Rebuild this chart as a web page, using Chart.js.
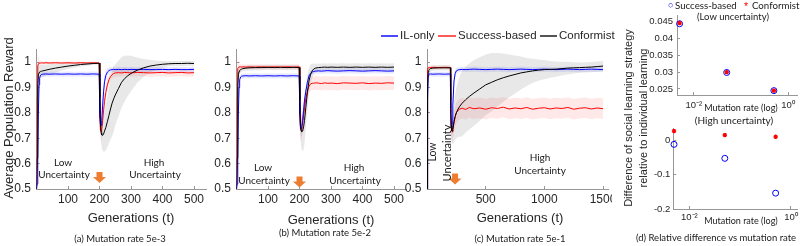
<!DOCTYPE html>
<html>
<head>
<meta charset="utf-8">
<script src="https://cdn.jsdelivr.net/npm/chart.js@4.4.1/dist/chart.umd.min.js"></script>
<style>
body { margin: 0; width: 803px; height: 246px; position: relative; background: #fff; overflow: hidden;
       font-family: "Liberation Sans", Arial, sans-serif; color: #262626; }
canvas { position: absolute; }
.t { position: absolute; white-space: nowrap; line-height: 1; transform: translate(-50%, -50%); }
.r { transform: translate(-50%, -50%) rotate(-90deg); }
.l { position: absolute; white-space: nowrap; line-height: 1; transform: translateY(-50%); }
.cal { font-family: Lato, sans-serif; color: #1a1a1a; }
.key { position: absolute; height: 1.5px; }
</style>
</head>
<body>
<canvas id="ca"></canvas>
<canvas id="cb"></canvas>
<canvas id="cc"></canvas>
<canvas id="cd1"></canvas>
<canvas id="cd2"></canvas>

<div class="t r" style="left:8px;top:118px;font-size:13px">Average Population Reward</div>
<div class="t" style="left:131px;top:217px;font-size:13px">Generations (t)</div>
<div class="t" style="left:331px;top:219px;font-size:13px">Generations (t)</div>
<div class="t" style="left:520px;top:217px;font-size:13px">Generations (t)</div>

<div class="t cal" style="left:120px;top:239px;font-size:9.5px">(a) Mutation rate 5e-3</div>
<div class="t cal" style="left:325px;top:233px;font-size:9.5px">(b) Mutation rate 5e-2</div>
<div class="t cal" style="left:520px;top:239px;font-size:9.5px">(c) Mutation rate 5e-1</div>
<div class="t cal" style="left:716px;top:238px;font-size:9.5px">(d) Relative difference vs mutation rate</div>

<div class="t cal" style="left:63px;top:162px;font-size:10px">Low</div>
<div class="t cal" style="left:64px;top:174px;font-size:10px">Uncertainty</div>
<div class="t cal" style="left:154px;top:162px;font-size:10px">High</div>
<div class="t cal" style="left:155px;top:174px;font-size:10px">Uncertainty</div>
<div class="t cal" style="left:263px;top:167px;font-size:10px">Low</div>
<div class="t cal" style="left:264px;top:180px;font-size:10px">Uncertainty</div>
<div class="t cal" style="left:354px;top:167px;font-size:10px">High</div>
<div class="t cal" style="left:355px;top:180px;font-size:10px">Uncertainty</div>
<div class="t r cal" style="left:432px;top:152px;font-size:10.5px">Low</div>
<div class="t r cal" style="left:445.5px;top:153px;font-size:11px">Uncertainty</div>
<div class="t cal" style="left:540px;top:157px;font-size:10px">High</div>
<div class="t cal" style="left:540px;top:170px;font-size:10px">Uncertainty</div>

<div class="key" style="left:381px;top:35px;width:17px;background:#4a4aff"></div>
<div class="l" style="left:400px;top:36px;font-size:11.5px">IL-only</div>
<div class="key" style="left:438px;top:35px;width:18px;background:#ff5a5a"></div>
<div class="l" style="left:458px;top:36px;font-size:11.5px">Success-based</div>
<div class="key" style="left:540px;top:35px;width:17px;background:#555"></div>
<div class="l" style="left:559px;top:36px;font-size:11.5px">Conformist</div>

<div class="l" style="left:668px;top:5px;font-size:9px;color:#0000ff">○</div>
<div class="l cal" style="left:675px;top:6px;font-size:9.7px">Success-based</div>
<div class="l" style="left:744px;top:6px;font-size:10.5px;color:#ff0000">*</div>
<div class="l cal" style="left:752px;top:6px;font-size:9.7px">Conformist</div>
<div class="t cal" style="left:733px;top:17px;font-size:9.5px">(Low uncertainty)</div>
<div class="t cal" style="left:734px;top:120px;font-size:10px">(High uncertainty)</div>
<div class="t cal" style="left:741px;top:107px;font-size:9px">Mutation rate (log)</div>
<div class="t cal" style="left:741px;top:220px;font-size:9px">Mutation rate (log)</div>
<div class="t r" style="left:627.5px;top:118px;font-size:11px">Difference of social learning strategy</div>
<div class="t r" style="left:643px;top:118px;font-size:11px">relative to individual learning</div>

<script>
// generations sampled for panels (a) and (b)
const gensAB = [0,2,4,6,8,10,13,16,20,30,40,60,80,100,120,140,160,180,199,201,203,205,207,210,213,216,220,225,230,235,240,245,250,260,270,280,290,300,320,340,360,380,400,420,440,460,480,500];

// (a) mutation rate 5e-3
const ilOnlyA = [0.50,0.52,0.62,0.80,0.91,0.938,0.948,0.951,0.952,0.953,0.952,0.953,0.952,0.953,0.952,0.953,0.952,0.953,0.952,
  0.80,0.757,0.750,0.768,0.83,0.885,0.922,0.947,0.960,0.966,0.969,0.970,0.971,
  0.970,0.971,0.970,0.971,0.970,0.971,0.970,0.971,0.970,0.970,0.971,0.970,0.971,0.970,0.970,0.971];
const successA = [0.50,0.86,0.985,0.993,0.995,0.996,0.996,0.997,0.996,0.997,0.996,0.997,0.996,0.997,0.996,0.997,0.996,0.997,0.996,
  0.78,0.732,0.726,0.735,0.77,0.81,0.845,0.88,0.91,0.93,0.943,0.950,0.955,0.957,
  0.958,0.957,0.959,0.958,0.957,0.959,0.958,0.957,0.958,0.959,0.957,0.958,0.959,0.957,0.958];
const conformA = [0.50,0.62,0.90,0.95,0.958,0.961,0.963,0.964,0.965,0.968,0.971,0.976,0.980,0.984,0.987,0.990,0.992,0.994,0.995,
  0.86,0.76,0.722,0.713,0.711,0.717,0.728,0.742,0.765,0.79,
  0.815,0.838,0.855,0.87,0.895,0.92,0.935,0.946,0.955,
  0.968,0.977,0.984,0.988,0.991,0.993,0.994,0.994,0.995,0.994];
const sdIlOnlyA = [0,0.02,0.05,0.05,0.03,0.015,0.01,0.01,0.01,0.01,0.01,0.01,0.01,0.01,0.01,0.01,0.01,0.01,0.01,
  0.03,0.03,0.03,0.03,0.03,0.03,0.025,0.02,0.015,0.012,
  0.01,0.01,0.01,0.01,0.01,0.01,0.01,0.01,0.01,0.01,0.01,0.01,0.01,0.01,0.01,0.01,0.01,0.01,0.01];
const sdSuccessA = [0,0.08,0.05,0.03,0.015,0.01,0.008,0.006,0.005,0.005,0.005,0.005,0.005,0.005,0.005,0.005,0.005,0.005,0.005,
  0.02,0.03,0.04,0.04,0.04,0.04,0.035,0.03,0.025,0.02,
  0.015,0.015,0.015,0.015,0.015,0.015,0.015,0.015,0.015,0.015,0.015,0.015,0.015,0.015,0.015,0.015,0.015,0.015,0.015];
const sdConformA = [0,0.05,0.05,0.04,0.03,0.025,0.025,0.025,0.025,0.022,0.02,0.017,0.014,0.012,0.01,0.008,0.007,0.006,0.005,
  0.02,0.03,0.04,0.05,0.06,0.07,0.08,0.09,0.10,0.11,
  0.12,0.13,0.13,0.12,0.11,0.10,0.09,0.08,0.07,
  0.05,0.035,0.025,0.018,0.013,0.01,0.01,0.01,0.01,0.01];

// (b) mutation rate 5e-2
const ilOnlyB = [0.50,0.52,0.62,0.80,0.90,0.93,0.941,0.944,0.945,0.946,0.945,0.946,0.945,0.946,0.945,0.946,0.945,0.946,0.945,
  0.80,0.745,0.738,0.745,0.77,0.81,0.85,0.885,0.92,0.945,0.955,0.96,0.963,0.964,
  0.965,0.964,0.965,0.966,0.965,0.964,0.965,0.966,0.965,0.964,0.965,0.966,0.965,0.964,0.965];
const successB = [0.50,0.86,0.975,0.979,0.980,0.980,0.981,0.980,0.981,0.980,0.981,0.980,0.981,0.980,0.981,0.980,0.981,0.980,0.981,
  0.79,0.74,0.732,0.738,0.76,0.79,0.82,0.855,0.885,0.905,0.913,0.917,0.916,0.918,
  0.917,0.915,0.918,0.916,0.917,0.915,0.918,0.917,0.916,0.918,0.915,0.917,0.916,0.918,0.917];
const conformB = [0.50,0.62,0.90,0.95,0.962,0.967,0.970,0.972,0.974,0.976,0.977,0.978,0.978,0.979,0.978,0.979,0.978,0.979,0.978,
  0.85,0.75,0.73,0.726,0.728,0.745,0.77,0.82,0.88,0.925,0.95,0.965,0.972,0.976,
  0.978,0.979,0.980,0.979,0.980,0.979,0.980,0.979,0.980,0.979,0.980,0.979,0.980,0.979,0.980];
const sdIlOnlyB = [0,0.02,0.05,0.05,0.03,0.015,0.01,0.01,0.01,0.01,0.01,0.01,0.01,0.01,0.01,0.01,0.01,0.01,0.01,
  0.03,0.03,0.03,0.03,0.03,0.03,0.025,0.02,0.015,0.012,
  0.01,0.01,0.01,0.01,0.01,0.01,0.01,0.01,0.01,0.01,0.01,0.01,0.01,0.01,0.01,0.01,0.01,0.01,0.01];
const sdSuccessB = [0,0.08,0.05,0.03,0.015,0.01,0.01,0.01,0.01,0.01,0.01,0.01,0.01,0.01,0.01,0.01,0.01,0.01,0.01,
  0.03,0.04,0.04,0.04,0.04,0.04,0.035,0.03,0.03,0.028,
  0.027,0.027,0.027,0.027,0.027,0.027,0.027,0.027,0.027,0.027,0.027,0.027,0.027,0.027,0.027,0.027,0.027,0.027,0.027];
const sdConformB = [0,0.05,0.05,0.03,0.02,0.015,0.012,0.01,0.01,0.01,0.01,0.01,0.01,0.01,0.01,0.01,0.01,0.01,0.01,
  0.03,0.05,0.06,0.07,0.08,0.09,0.09,0.08,0.07,0.05,
  0.04,0.03,0.02,0.018,
  0.015,0.015,0.015,0.015,0.015,0.015,0.015,0.015,0.015,0.015,0.015,0.015,0.015,0.015,0.015];

// (c) mutation rate 5e-1
const gensC = [0,5,10,15,20,30,50,100,150,199,202,206,210,215,220,230,240,250,265,280,300,330,360,400,450,500,550,600,650,700,750,800,850,900,950,1000,1050,1100,1150,1200,1250,1300,1350,1400,1450,1500];
const ilOnlyC = [0.50,0.85,0.945,0.952,0.953,0.953,0.952,0.953,0.952,0.953,
  0.82,0.75,0.735,0.76,0.83,0.925,0.955,0.965,0.969,0.970,
  0.971,0.970,0.971,0.972,0.971,0.970,0.971,0.972,0.971,0.970,
  0.971,0.972,0.971,0.970,0.971,0.972,0.971,0.970,0.971,0.972,
  0.971,0.970,0.971,0.972,0.971,0.970];
const successC = [0.50,0.97,0.977,0.978,0.978,0.978,0.979,0.978,0.979,0.978,
  0.80,0.74,0.728,0.725,0.735,0.76,0.785,0.80,0.81,0.815,
  0.818,0.813,0.821,0.816,0.819,0.814,0.820,0.817,0.822,0.815,
  0.819,0.816,0.821,0.814,0.818,0.820,0.815,0.819,0.817,0.821,
  0.814,0.818,0.820,0.815,0.819,0.816];
const conformC = [0.50,0.90,0.96,0.968,0.971,0.974,0.976,0.977,0.977,0.977,
  0.85,0.75,0.73,0.728,0.735,0.765,0.785,0.80,0.815,0.826,
  0.838,0.852,0.864,0.878,0.894,0.91,0.92,0.93,0.938,0.945,
  0.951,0.957,0.961,0.965,0.968,0.970,0.971,0.972,0.974,0.976,
  0.977,0.978,0.979,0.980,0.982,0.984];
const sdIlOnlyC = [0,0.05,0.02,0.01,0.01,0.01,0.01,0.01,0.01,0.01,
  0.03,0.04,0.04,0.04,0.03,0.02,0.015,0.012,0.01,0.01,
  0.01,0.01,0.01,0.01,0.01,0.01,0.01,0.01,0.01,0.01,
  0.01,0.01,0.01,0.01,0.01,0.01,0.01,0.01,0.01,0.01,
  0.01,0.01,0.01,0.01,0.01,0.01];
const sdSuccessC = [0,0.06,0.01,0.008,0.008,0.008,0.008,0.008,0.008,0.008,
  0.03,0.035,0.04,0.04,0.04,0.04,0.04,0.04,0.04,0.04,
  0.04,0.04,0.04,0.04,0.04,0.04,0.04,0.04,0.04,0.04,
  0.04,0.04,0.04,0.04,0.04,0.04,0.04,0.04,0.04,0.04,
  0.04,0.04,0.04,0.04,0.04,0.04];
const sdConformC = [0,0.05,0.02,0.012,0.01,0.01,0.01,0.01,0.01,0.01,
  0.02,0.03,0.04,0.05,0.06,0.08,0.09,0.10,0.11,0.12,
  0.13,0.13,0.13,0.13,0.125,0.12,0.115,0.105,0.095,0.085,
  0.075,0.065,0.055,0.048,0.042,0.038,0.033,0.03,0.027,0.025,
  0.022,0.02,0.02,0.02,0.02,0.02];

// (d) relative difference vs mutation rate
const mutationRates = [0.005, 0.05, 0.5];
const lowSuccess = [0.0444, 0.0299, 0.0245];
const lowConform = [0.0446, 0.0300, 0.0245];
const highSuccess = [-0.0125, -0.053, -0.154];
const highConform = [0.026, 0.0144, 0.0095];

// tick values
const rewardTicks = [0.5, 0.6, 0.7, 0.8, 0.9, 1];
const genTicksAB = [100, 200, 300, 400, 500];
const genTicksC = [500, 1000, 1500];
const lowTicks = [0.025, 0.03, 0.035, 0.04, 0.045];
const highTicks = [-0.2, -0.1, 0];
const rateTicks = [0.01, 1];
const rateLabels = ['10⁻²', '10⁰'];

const AXIS = '#979797', INK = '#262626';
Chart.defaults.font.family = '"Liberation Sans", Arial, sans-serif';

const arrowPlugin = {
    id: 'arrow',
    afterDatasetsDraw(chart, args, opts) {
        if (!opts || !opts.at) return;
        const ctx = chart.ctx;
        const cx = chart.scales.x.getPixelForValue(opts.at[0]);
        const cy = chart.scales.y.getPixelForValue(opts.at[1]);
        ctx.save();
        ctx.fillStyle = '#ED7D31';
        ctx.beginPath();
        ctx.moveTo(cx - 3, cy - 5.5);
        ctx.lineTo(cx + 3, cy - 5.5);
        ctx.lineTo(cx + 3, cy - 0.5);
        ctx.lineTo(cx + 6.5, cy - 0.5);
        ctx.lineTo(cx, cy + 5.5);
        ctx.lineTo(cx - 6.5, cy - 0.5);
        ctx.lineTo(cx - 3, cy - 0.5);
        ctx.closePath();
        ctx.fill();
        ctx.restore();
    }
};

function scale(o) {
    return {
        type: o.type || 'linear',
        min: o.min,
        max: o.max,
        afterBuildTicks: s => { s.ticks = o.ticks.map(v => ({ value: v })); },
        afterFit: s => {
            if (o.horizontal) s.height = o.size; else s.width = o.size;
            s.paddingLeft = s.paddingRight = s.paddingTop = s.paddingBottom = 0;
        },
        ticks: {
            autoSkip: false, maxRotation: 0, padding: o.pad, color: INK,
            font: { size: o.font },
            callback: (v, i) => o.labels ? o.labels[i] : String(v)
        },
        grid: { display: true, drawOnChartArea: false, drawTicks: true, tickLength: -3, color: AXIS },
        border: { color: AXIS, width: 1 }
    };
}

function makeChart(id, box, type, datasets, xs, ys, extra) {
    const cv = document.getElementById(id);
    cv.width = box.w; cv.height = box.h;
    cv.style.left = box.left + 'px'; cv.style.top = box.top + 'px';
    xs.size = box.top + box.h - box.pb;
    ys.size = box.pl - box.left;
    xs.horizontal = true;
    return new Chart(cv, {
        type: type,
        data: { datasets: datasets },
        plugins: [arrowPlugin],
        options: {
            responsive: false, animation: false, devicePixelRatio: 1,
            layout: { padding: { left: 0, bottom: 0, top: box.pt - box.top, right: box.left + box.w - box.pr } },
            plugins: { legend: { display: false }, tooltip: { enabled: false }, arrow: extra || {} },
            scales: { x: scale(xs), y: scale(ys) }
        }
    });
}

function rewardDatasets(gens, series) {
    const lines = [], bands = [];
    series.forEach((s, k) => {
        lines.push({
            data: gens.map((g, i) => ({ x: g, y: s.mean[i] })),
            borderColor: s.color, borderWidth: 1, pointRadius: 0, fill: false, order: k
        });
    });
    const n = series.length;
    series.forEach((s, k) => {
        const up = n + bands.length;
        bands.push({
            data: gens.map((g, i) => ({ x: g, y: s.mean[i] + s.sd[i] })),
            borderWidth: 0, pointRadius: 0, fill: false, order: 10 + k
        });
        bands.push({
            data: gens.map((g, i) => ({ x: g, y: s.mean[i] - s.sd[i] })),
            borderWidth: 0, pointRadius: 0, fill: up, backgroundColor: s.band, order: 10 + k
        });
    });
    return lines.concat(bands);
}

function series(il, ilSd, succ, succSd, conf, confSd) {
    return [
        { mean: conf, sd: confSd, color: '#000000', band: 'rgba(0,0,0,0.09)' },
        { mean: il, sd: ilSd, color: '#0000ff', band: 'rgba(0,0,255,0.09)' },
        { mean: succ, sd: succSd, color: '#ff0000', band: 'rgba(255,0,0,0.09)' }
    ];
}

const yReward = () => ({ min: 0.5, max: 1.05, ticks: rewardTicks, pad: 8.5, font: 12 });

makeChart('ca', { left: 0, top: 40, w: 212, h: 172, pl: 36.5, pr: 206.6, pt: 49.3, pb: 189 }, 'line',
    rewardDatasets(gensAB, series(ilOnlyA, sdIlOnlyA, successA, sdSuccessA, conformA, sdConformA)),
    { min: 0, max: 540, ticks: genTicksAB, pad: 6.5, font: 12 }, yReward(), { at: [200, 0.545] });

makeChart('cb', { left: 200, top: 40, w: 212, h: 172, pl: 236.5, pr: 406.6, pt: 49.3, pb: 189 }, 'line',
    rewardDatasets(gensAB, series(ilOnlyB, sdIlOnlyB, successB, sdSuccessB, conformB, sdConformB)),
    { min: 0, max: 540, ticks: genTicksAB, pad: 6.5, font: 12 }, yReward(), { at: [200, 0.528] });

makeChart('cc', { left: 400, top: 40, w: 212, h: 172, pl: 427, pr: 608.9, pt: 49.3, pb: 189 }, 'line',
    rewardDatasets(gensC, series(ilOnlyC, sdIlOnlyC, successC, sdSuccessC, conformC, sdConformC)),
    { min: 0, max: 1550, ticks: genTicksC, pad: 6.5, font: 12 }, yReward(), { at: [239, 0.539] });

function diffDatasets(succ, conf) {
    return [
        { data: mutationRates.map((r, i) => ({ x: r, y: conf[i] })), pointStyle: 'star', pointRadius: 2.2,
          borderColor: '#ff0000', backgroundColor: '#ff0000', borderWidth: 1.3, clip: false },
        { data: mutationRates.map((r, i) => ({ x: r, y: succ[i] })), pointStyle: 'circle', pointRadius: 3,
          borderColor: '#0000ff', backgroundColor: 'rgba(0,0,0,0)', borderWidth: 1, clip: false }
    ];
}

makeChart('cd1', { left: 640, top: 0, w: 163, h: 115, pl: 677, pr: 803, pt: 15, pb: 95 }, 'scatter',
    diffDatasets(lowSuccess, lowConform),
    { type: 'logarithmic', min: 0.00441, max: 1.6, ticks: rateTicks, labels: rateLabels, pad: 8, font: 9.5 },
    { min: 0.0232, max: 0.047, ticks: lowTicks, pad: 7, font: 9.5 });

makeChart('cd2', { left: 640, top: 110, w: 163, h: 125, pl: 673.3, pr: 803, pt: 128, pb: 209 }, 'scatter',
    diffDatasets(highSuccess, highConform),
    { type: 'logarithmic', min: 0.00484, max: 1.36, ticks: rateTicks, labels: rateLabels, pad: 6, font: 9.5 },
    { min: -0.2, max: 0.035, ticks: highTicks, pad: 6, font: 9.5 });
</script>
</body>
</html>
